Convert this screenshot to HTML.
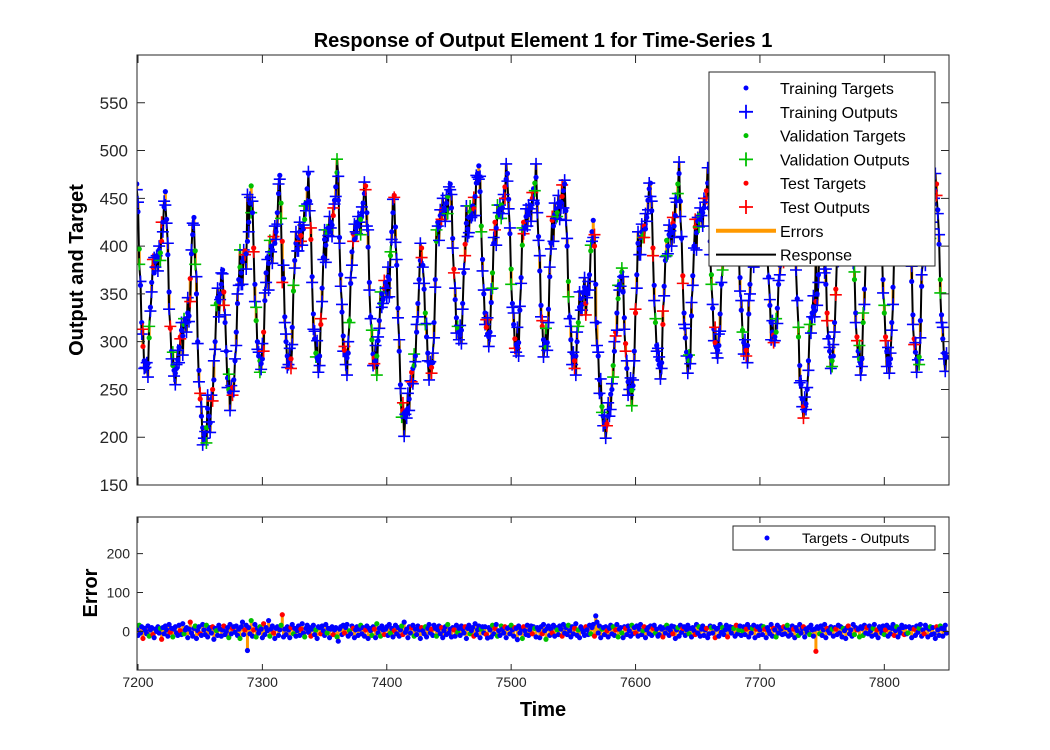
<!DOCTYPE html>
<html><head><meta charset="utf-8"><style>
html,body{margin:0;padding:0;background:#fff;}
svg{display:block;font-family:"Liberation Sans",Arial,sans-serif;}
</style></head><body>
<svg id="chart" width="1050" height="750" viewBox="0 0 1050 750">
<defs>
<clipPath id="clipTop"><rect x="137" y="55" width="812" height="430"/></clipPath>
<clipPath id="clipBot"><rect x="137" y="517" width="812" height="153"/></clipPath>
</defs>
<rect x="0" y="0" width="1050" height="750" fill="#fff"/>
<text x="543" y="47" text-anchor="middle" font-size="20" font-weight="bold">Response of Output Element 1 for Time-Series 1</text>
<rect x="137" y="55" width="812" height="430" fill="#fff"/>
<rect x="137" y="517" width="812" height="153" fill="#fff"/>
<g id="topMarks" clip-path="url(#clipTop)"></g>
<g id="botMarks" clip-path="url(#clipBot)"></g>
<g id="axes"></g>
<text transform="translate(83,270) rotate(-90)" text-anchor="middle" font-size="20" font-weight="bold">Output and Target</text>
<text transform="translate(97,593) rotate(-90)" text-anchor="middle" font-size="20" font-weight="bold">Error</text>
<text x="543" y="716" text-anchor="middle" font-size="20" font-weight="bold">Time</text>
<g id="legend"></g>
<g id="legend2"></g>
</svg>
<script>
var startTime = 7199;
var targets = [
465,436,397,359,320,295,280,275,272,277,304,336,362,378,372,384,390,386,396,393,405,425,441,
457,428,391,352,314,290,275,270,267,272,281,294,305,312,306,318,324,320,330,327,366,392,412,
430,395,350,300,270,240,222,210,203,198,210,230,222,215,240,250,260,300,340,346,342,350,360,
375,352,320,290,262,250,246,248,252,260,280,310,340,365,378,372,384,388,395,392,405,425,445,
463,435,398,360,322,300,285,280,277,282,310,343,372,388,382,394,400,396,406,403,415,435,455,
474,445,405,366,326,300,285,280,277,282,315,353,385,403,397,409,415,411,421,418,428,445,460,
476,447,407,368,329,303,288,283,280,285,318,356,388,407,401,413,419,415,425,422,432,448,462,
477,448,409,370,331,306,291,286,283,288,322,361,394,413,407,419,425,421,431,428,435,445,455,
463,435,399,362,326,302,287,283,280,285,301,322,340,350,344,356,362,358,368,365,390,415,435,
453,420,380,335,290,255,235,228,225,222,226,230,240,255,268,272,275,285,310,340,365,385,
398,380,355,330,305,288,278,275,273,278,320,365,405,425,420,432,438,434,440,438,445,452,458,
465,440,408,376,344,325,314,310,307,312,340,372,402,424,418,430,436,432,442,439,452,466,476,
484,457,421,386,350,330,315,308,305,310,341,372,403,425,419,431,437,433,443,440,450,462,470,
476,449,413,376,340,318,303,297,294,299,333,367,401,425,419,431,437,433,443,440,450,460,466,
472,445,410,374,338,316,302,297,294,299,334,368,403,427,421,433,439,435,445,442,446,452,458,
465,437,400,363,326,302,288,283,280,285,300,320,336,345,339,351,357,340,350,355,370,395,415,
427,400,360,320,285,260,245,232,222,215,211,214,222,230,245,250,275,290,310,330,345,360,368,
373,352,325,298,272,258,252,250,249,254,290,330,370,403,397,409,415,411,421,418,430,448,460,
466,437,398,359,320,296,281,276,273,278,318,358,385,406,400,412,418,414,424,421,432,450,465,
476,447,408,369,330,304,289,283,280,285,327,369,400,420,414,426,432,428,438,435,440,450,458,
466,440,405,370,335,313,299,294,291,296,329,360,385,400,394,406,412,408,418,415,425,440,452,
460,435,401,367,333,312,299,294,291,296,329,360,385,400,394,406,412,408,418,415,422,435,445,
450,428,398,368,338,320,310,307,305,310,335,360,380,390,385,395,400,396,405,410,420,432,442,
450,420,385,345,305,275,255,240,232,228,235,250,280,310,325,330,336,332,342,350,370,400,425,
440,418,390,360,330,305,290,284,280,285,320,355,385,400,394,406,412,408,418,415,425,440,452,
460,434,400,365,330,305,290,282,277,282,320,355,385,400,394,406,412,408,418,415,425,440,452,
460,434,400,365,330,305,290,282,277,282,320,357,390,405,399,411,417,413,423,420,430,445,458,
458,432,398,363,328,303,289,282,279,284,322,358,388,402,396,408,414,410,420,417,428,444,458,
465,438,402,365,328,303,288,285,284];
var errors = [
6,-10,16,-4,12,-18,8,2,-6,14,-12,4,10,-8,-16,6,0,12,-4,8,
-20,10,-6,14,4,-12,18,-2,8,-14,6,12,-4,-10,16,2,-8,20,-6,4,
10,-16,6,24,-4,-12,8,14,-18,2,12,-6,-10,18,4,-8,16,-14,6,10,
-4,12,-20,8,2,-10,16,6,-12,4,14,-8,0,10,-16,18,-6,8,12,-2,
14,-10,6,-18,12,24,-8,4,16,-49,10,-6,28,-12,4,18,-14,8,-4,12,
6,-16,20,-8,10,2,28,-12,6,14,-4,-18,8,12,-10,4,16,43,-14,6,
-8,12,4,-16,10,18,-6,8,-12,2,14,-10,6,20,-4,-14,8,16,-2,10,
-12,6,16,-8,4,-18,12,10,-6,14,2,-10,18,-4,8,-16,6,12,-8,4,
10,-14,-25,6,12,-8,16,-4,10,18,-12,2,-6,14,8,-16,4,12,-10,6,
16,-6,10,-12,4,14,-18,8,2,-10,12,6,-16,20,-4,8,-12,14,4,-8,
6,12,-10,18,-4,8,-14,2,16,-6,10,-12,4,14,-8,24,-2,6,-16,12,
-4,10,16,-12,6,-8,14,4,-18,10,2,-6,12,-14,8,18,-4,6,-10,16,
8,-12,4,14,-6,10,-16,2,12,-8,18,-4,6,-14,10,4,-12,16,-2,8,
-10,14,6,-4,12,-18,8,16,-6,2,10,-12,20,-8,4,14,-16,6,12,-4,
12,-8,-17,10,4,-14,16,-6,8,18,-12,2,-10,14,6,-4,12,-16,8,10,
-6,16,4,-12,10,8,-21,14,-4,6,-18,12,2,-8,16,-10,4,14,-6,12,
8,-14,10,4,-16,12,-6,18,2,-20,8,14,-10,6,-4,16,-12,10,4,-8,
14,6,-12,18,-4,10,-8,16,2,-14,12,-6,8,20,-10,4,-16,12,6,-2,
-10,12,4,-8,16,-6,10,18,-12,40,24,-4,14,-16,6,10,-8,12,2,-14,
8,16,-6,12,-10,4,18,-14,6,10,-4,-16,12,8,-8,14,2,-12,16,-6,
10,-4,14,-12,6,18,-8,2,12,-16,4,10,-6,14,-10,8,16,-4,6,-12,
-8,12,6,-14,10,-4,16,8,-10,2,14,-6,12,-18,4,10,-12,16,-2,8,
12,-10,4,16,-6,8,-14,10,2,-8,18,-4,12,-12,6,14,-10,4,8,-16,
-6,14,10,-4,12,-16,6,8,-12,18,-2,10,-8,4,16,-14,6,12,-4,10,
8,-12,16,-6,4,14,-10,2,12,-8,6,18,-14,10,-4,8,16,-16,6,12,
-10,4,14,-8,12,6,-16,10,2,-6,18,-12,8,4,-14,16,-4,10,6,-8,
12,-6,10,16,-12,4,-8,14,6,-16,10,2,-10,18,-4,8,12,-14,6,-2,
10,-8,16,4,-12,6,-51,12,8,-6,14,-10,4,18,-16,8,2,-4,12,6,
-12,10,6,-8,16,-4,12,-14,8,2,-18,10,14,-6,4,-12,18,-8,10,4,
6,-14,12,8,-10,16,-4,10,-6,14,2,-12,8,18,-8,4,-16,12,6,-4,
14,-8,4,16,-12,10,-6,8,18,-10,2,12,-14,6,-4,16,10,-8,12,-6,
-4,12,8,-16,10,6,-10,14,-2,8,18,-12,4,-6,16,10,-14,6,12,-8,
10,-6,-18,12,4,-10,14,8,-12,6,16,-4];
var splitCodes = "TTVTTSTTTTVTTSTTTTTVSTTTTTTSTVTTTTTSTTVTTTTSTTTVTTTSTTTTVTTTTSTTVTTTTTSTTTVTTSTTTTTVTTTSTTTTVTSTV";
var yTicksTop = [150,200,250,300,350,400,450,500,550];
var yTicksBot = [0,100,200];
var xTicks = [7200,7300,7400,7500,7600,7700,7800];

var NS = "http://www.w3.org/2000/svg";
var X0=137, X1=949, TMIN=7199.2, TMAX=7852;
function xS(t){return X0+(t-TMIN)*(X1-X0)/(TMAX-TMIN);}
function yT(v){return 485-(v-150)*430/450;}
function yB(e){return 670-(e+99)*153/393;}
function mk(tag,attrs,parent){var el=document.createElementNS(NS,tag);for(var k in attrs)el.setAttribute(k,attrs[k]);parent.appendChild(el);return el;}
var colors={T:"#0000ff",V:"#00c000",S:"#ff0000"};
var names={T:"training",V:"validation",S:"test"};
var orange="#ff9900";
var topG=document.getElementById("topMarks"), botG=document.getElementById("botMarks"), axG=document.getElementById("axes");

for(var i=0;i<targets.length;i++){
  var t=startTime+i, out=targets[i]-errors[i];
  var l=mk("line",{x1:xS(t),x2:xS(t),y1:yT(targets[i]),y2:yT(out),stroke:orange,"stroke-width":3},topG);
  
  
}
var d="";
for(var i=0;i<targets.length;i++){d+=(i?"L":"M")+xS(startTime+i).toFixed(1)+","+yT(targets[i]-errors[i]).toFixed(1);}
var resp=mk("path",{d:d,fill:"none",stroke:"#000","stroke-width":2},topG);


for(var i=0;i<targets.length;i++){
  var t=startTime+i, c=splitCodes[i%splitCodes.length], col=colors[c];
  var x=xS(t), yt=yT(targets[i]), yo=yT(targets[i]-errors[i]);
  var dot=mk("circle",{cx:x,cy:yt,r:2.6,fill:col},topG);
  
  
  var p=mk("path",{d:"M"+(x-6)+","+yo+"H"+(x+6)+"M"+x+","+(yo-6)+"V"+(yo+6),stroke:col,"stroke-width":1.6,fill:"none"},topG);
  
  
}
for(var i=0;i<errors.length;i++){
  var t=startTime+i, x=xS(t);
  var s=mk("line",{x1:x,x2:x,y1:yB(0),y2:yB(errors[i]),stroke:orange,"stroke-width":3},botG);
  
  
}
for(var i=0;i<errors.length;i++){
  var t=startTime+i, c=splitCodes[i%splitCodes.length];
  var e=mk("circle",{cx:xS(t),cy:yB(errors[i]),r:2.6,fill:colors[c]},botG);
  
  
}
var b1=mk("rect",{x:137,y:55,width:812,height:430,fill:"none",stroke:"#262626","stroke-width":1},axG);


var b2=mk("rect",{x:137,y:517,width:812,height:153,fill:"none",stroke:"#262626","stroke-width":1},axG);


yTicksTop.forEach(function(v){
  var y=yT(v);
  var tk=mk("path",{d:"M137,"+y+"h8M949,"+y+"h-8",stroke:"#262626","stroke-width":1},axG);
  
  
  var lb=mk("text",{x:128,y:y+6,"text-anchor":"end","font-size":17,fill:"#262626"},axG);
  lb.textContent=v;
  
  
});
yTicksBot.forEach(function(v){
  var y=yB(v);
  var tk=mk("path",{d:"M137,"+y+"h6M949,"+y+"h-6",stroke:"#262626","stroke-width":1},axG);
  
  
  var lb=mk("text",{x:130,y:y+5,"text-anchor":"end","font-size":14,fill:"#262626"},axG);
  lb.textContent=v;
  
  
});
xTicks.forEach(function(v){
  var x=xS(v);
  var tk=mk("path",{d:"M"+x+",485v-8M"+x+",55v8M"+x+",670v-6M"+x+",517v6",stroke:"#262626","stroke-width":1},axG);
  
  
  var lb=mk("text",{x:x,y:687,"text-anchor":"middle","font-size":14,fill:"#262626"},axG);
  lb.textContent=v;
  
  
});
var lg=document.getElementById("legend");
var lbox=mk("rect",{x:709,y:72,width:226,height:194,fill:"#fff",stroke:"#262626","stroke-width":1},lg);


var entries=[["dot","#0000ff","Training Targets"],["plus","#0000ff","Training Outputs"],["dot","#00c000","Validation Targets"],["plus","#00c000","Validation Outputs"],["dot","#ff0000","Test Targets"],["plus","#ff0000","Test Outputs"],["line",orange,"Errors"],["line","#000","Response"]];
entries.forEach(function(en,k){
  var y=88+k*23.8, g=mk("g",{},lg);
  
  
  if(en[0]=="dot") mk("circle",{cx:746,cy:y,r:2.5,fill:en[1]},g);
  else if(en[0]=="plus") mk("path",{d:"M739,"+y+"h14M746,"+(y-7)+"v14",stroke:en[1],"stroke-width":1.8},g);
  else mk("line",{x1:716,x2:776,y1:y,y2:y,stroke:en[1],"stroke-width":en[1]=="#000"?2:4},g);
  var tx=mk("text",{x:780,y:y+6,"font-size":16,fill:"#000"},g);
  tx.textContent=en[2];
});
var lg2=document.getElementById("legend2");
var lb2=mk("rect",{x:733,y:526,width:202,height:24,fill:"#fff",stroke:"#262626","stroke-width":1},lg2);


var d2=mk("circle",{cx:767,cy:538,r:2.5,fill:"#0000ff"},lg2);


var t2=mk("text",{x:802,y:543,"font-size":14,fill:"#000"},lg2);
t2.textContent="Targets - Outputs";


</script>
</body></html>
